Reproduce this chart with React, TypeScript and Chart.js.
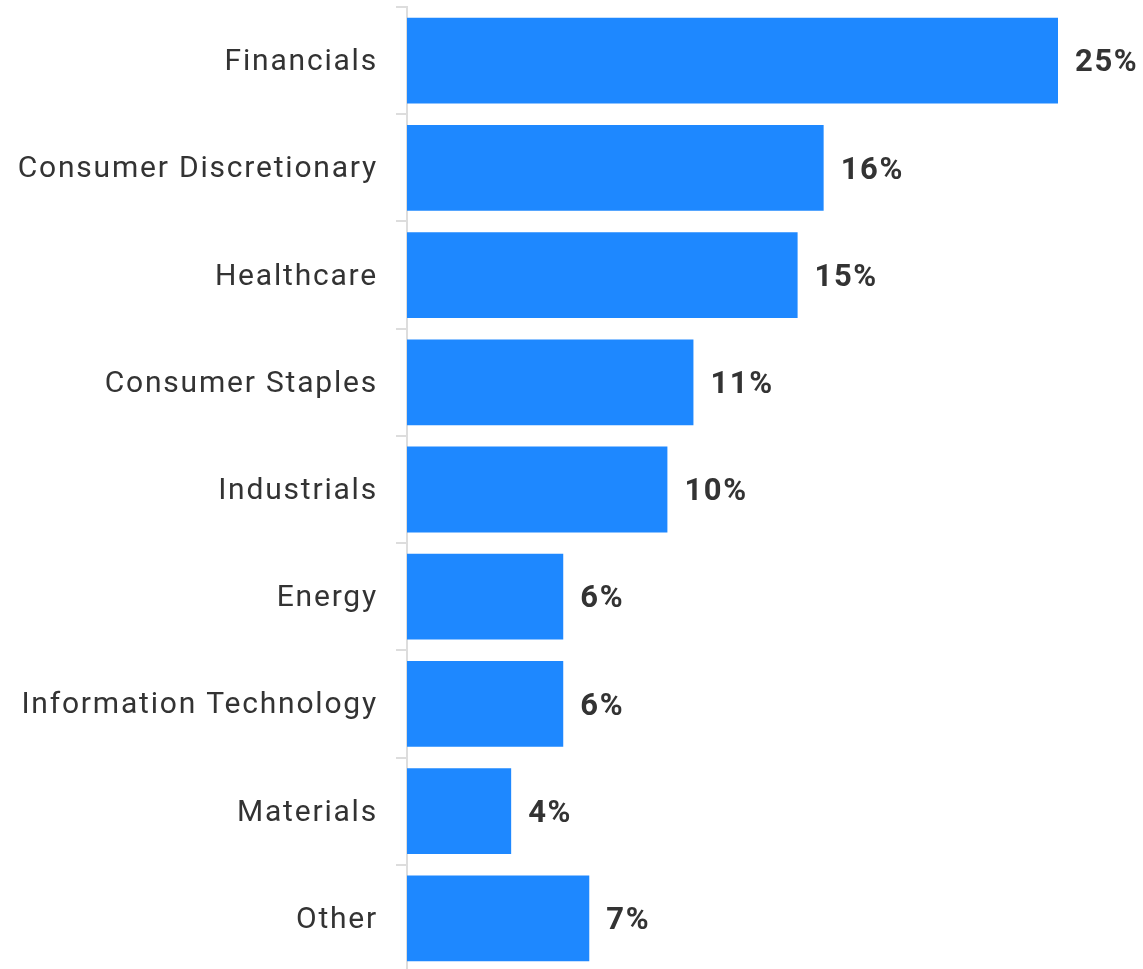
import React, { useEffect, useRef } from "react";
import { Chart, registerables } from "chart.js";

Chart.register(...registerables);

const categories = [
  "Financials",
  "Consumer Discretionary",
  "Healthcare",
  "Consumer Staples",
  "Industrials",
  "Energy",
  "Information Technology",
  "Materials",
  "Other",
];
const values = [25, 16, 15, 11, 10, 6, 6, 4, 7];
const valueLabels = ["25%", "16%", "15%", "11%", "10%", "6%", "6%", "4%", "7%"];

const FONT = "Roboto, 'Liberation Sans', Arial, sans-serif";

const spacingPlugin = {
  id: "spacing",
  beforeDraw(chart: any) {
    (chart.ctx as any).letterSpacing = "1.8px";
  },
  afterDraw(chart: any) {
    (chart.ctx as any).letterSpacing = "0px";
  },
};

const valueLabelPlugin = {
  id: "valueLabels",
  afterDatasetsDraw(chart: any) {
    const ctx = chart.ctx;
    const meta = chart.getDatasetMeta(0);
    ctx.save();
    (ctx as any).letterSpacing = "1.6px";
    ctx.font = `bold 31px ${FONT}`;
    ctx.fillStyle = "#333333";
    ctx.textAlign = "left";
    ctx.textBaseline = "middle";
    meta.data.forEach((bar: any, i: number) => {
      ctx.fillText(valueLabels[i], bar.x + 17, bar.y + 3);
    });
    ctx.restore();
  },
};

export default function App() {
  const ref = useRef<HTMLCanvasElement | null>(null);
  useEffect(() => {
    if (!ref.current) return;
    const chart = new Chart(ref.current, {
      type: "bar",
      data: {
        labels: categories,
        datasets: [
          {
            data: values,
            backgroundColor: "#1E88FF",
            borderWidth: 0,
            barPercentage: 0.8,
            categoryPercentage: 1.0,
          },
        ],
      },
      options: {
        indexAxis: "y",
        animation: false,
        responsive: false,
        maintainAspectRatio: false,
        layout: { padding: { top: 7, bottom: 8, right: 85, left: 0 } },
        plugins: {
          legend: { display: false },
          tooltip: { enabled: false },
        },
        scales: {
          x: {
            display: false,
            min: 0,
            max: 25,
          },
          y: {
            afterFit(scale: any) {
              scale.width = 407;
              scale.paddingTop = 0;
              scale.paddingBottom = 0;
            },
            border: { display: true, color: "#dddddd", width: 2 },
            grid: {
              display: true,
              offset: true,
              drawOnChartArea: false,
              drawTicks: true,
              tickLength: 11,
              color: "#dddddd",
              lineWidth: 2,
            },
            ticks: {
              color: "#333333",
              padding: 18,
              labelOffset: 2,
              font: { family: FONT, size: 30 },
            },
          },
        },
      },
      plugins: [spacingPlugin, valueLabelPlugin],
    });
    return () => chart.destroy();
  }, []);
  return (
    <div style={{ position: "absolute", left: 0, top: 0, width: 1143, height: 980 }}>
      <canvas ref={ref} width={1143} height={980} style={{ display: "block" }} />
    </div>
  );
}
